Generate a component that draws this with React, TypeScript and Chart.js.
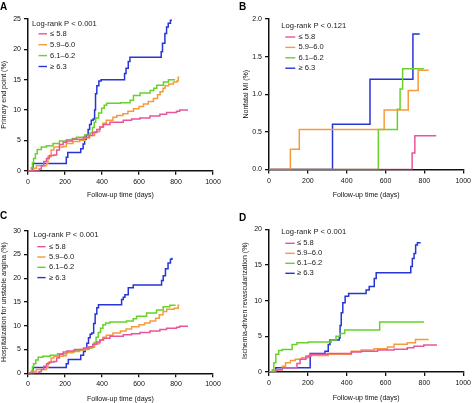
import { useEffect, useRef } from "react";
import { Chart, registerables } from "chart.js";

Chart.register(...registerables);

type Pt = [number, number];

const GROUPS = ["≤ 5.8", "5.9–6.0", "6.1–6.2", "≥ 6.3"];
const COLORS = ["#e8559a", "#f59b3c", "#66d22a", "#2535d6"];
const X_TITLE = "Follow-up time (days)";

// A: primary end point (%)
const A_LOW: Pt[] = [[0, 0], [60, 0.3], [72, 0.8], [85, 1.5], [100, 2.0], [115, 2.5], [140, 2.6], [155, 3.4], [170, 4.3], [190, 4.7], [210, 4.9], [240, 5.2], [300, 5.5], [330, 5.8], [350, 6.3], [372, 6.8], [390, 7.2], [408, 7.6], [443, 8.0], [515, 8.3], [560, 8.5], [605, 8.7], [659, 9.0], [713, 9.3], [749, 9.6], [803, 9.8], [820, 10.0], [865, 10.0]];
const A_MID: Pt[] = [[0, 0], [30, 0.4], [45, 0.8], [100, 1.2], [108, 2.3], [125, 3.4], [140, 3.9], [190, 4.0], [207, 4.5], [243, 4.8], [279, 5.0], [306, 5.4], [333, 5.8], [360, 6.4], [387, 7.2], [405, 7.8], [423, 8.3], [459, 8.8], [480, 9.1], [513, 9.4], [540, 9.8], [570, 10.2], [600, 10.6], [624, 11.0], [650, 11.4], [678, 11.9], [700, 12.5], [714, 13.0], [730, 13.6], [741, 14.0], [760, 14.3], [786, 14.6], [805, 14.8], [812, 15.4], [818, 15.4]];
const A_HIGH: Pt[] = [[0, 0], [18, 0.5], [24, 1.3], [30, 2.0], [40, 2.8], [50, 3.5], [72, 3.9], [100, 4.1], [135, 4.5], [170, 4.9], [207, 5.1], [240, 5.3], [262, 5.5], [306, 5.9], [335, 6.2], [348, 7.1], [358, 8.0], [366, 8.7], [382, 9.5], [398, 10.3], [412, 10.8], [425, 11.1], [500, 11.2], [552, 11.6], [570, 12.4], [606, 12.8], [660, 13.2], [680, 13.6], [696, 14.1], [732, 14.6], [759, 15.0], [795, 15.0]];
const A_TOP: Pt[] = [[0, 0], [27, 1.2], [207, 2.2], [215, 3.0], [285, 3.6], [298, 4.4], [306, 5.2], [315, 5.9], [325, 6.8], [333, 7.6], [342, 8.3], [352, 8.5], [360, 10.0], [365, 12.7], [372, 14.0], [383, 14.8], [395, 15.0], [522, 16.0], [530, 16.9], [542, 18.0], [551, 18.7], [720, 19.6], [727, 21.0], [740, 22.6], [749, 23.7], [758, 24.3], [770, 24.8], [778, 24.8]];

// B: nonfatal MI (%)
const B_LOW: Pt[] = [[0, 0], [737, 0.22], [751, 0.45], [861, 0.45]];
const B_MID: Pt[] = [[0, 0], [110, 0.27], [156, 0.53], [593, 0.79], [717, 1.05], [768, 1.32], [822, 1.32]];
const B_HIGH: Pt[] = [[0, 0], [563, 0.53], [661, 0.8], [675, 1.07], [688, 1.34], [797, 1.34]];
const B_TOP: Pt[] = [[0, 0], [327, 0.6], [520, 1.2], [741, 1.8], [776, 1.8]];

// C: hospitalization for unstable angina (%)
const C_LOW: Pt[] = [[0, 0], [60, 0.3], [72, 0.8], [85, 1.5], [100, 2.0], [115, 2.4], [140, 2.5], [155, 3.2], [170, 4.0], [190, 4.5], [210, 4.7], [250, 5.0], [300, 5.3], [330, 5.6], [350, 6.1], [372, 6.6], [390, 7.0], [408, 7.4], [443, 7.8], [515, 8.1], [560, 8.3], [605, 8.6], [659, 8.9], [713, 9.2], [749, 9.5], [803, 9.7], [820, 9.9], [865, 9.9]];
const C_MID: Pt[] = [[0, 0], [30, 0.4], [45, 0.8], [100, 1.2], [108, 2.2], [125, 3.2], [140, 3.6], [190, 3.7], [207, 4.3], [243, 4.6], [279, 4.9], [306, 5.2], [333, 5.5], [360, 6.2], [387, 7.0], [405, 7.6], [423, 8.0], [459, 8.5], [500, 8.9], [530, 9.3], [560, 9.8], [600, 10.2], [630, 10.6], [660, 11.0], [690, 11.6], [710, 12.3], [730, 13.0], [750, 13.5], [790, 13.7], [812, 14.3], [818, 14.3]];
const C_HIGH: Pt[] = [[0, 0], [18, 0.5], [24, 1.3], [30, 2.0], [42, 2.8], [55, 3.4], [80, 3.6], [120, 3.8], [160, 4.1], [210, 4.5], [250, 4.8], [282, 5.0], [330, 5.3], [348, 5.6], [358, 6.5], [368, 7.6], [380, 8.6], [392, 9.5], [405, 10.2], [420, 10.6], [443, 10.8], [533, 11.0], [569, 11.5], [587, 12.0], [641, 12.7], [695, 13.3], [731, 14.0], [767, 14.3], [798, 14.3]];
const C_TOP: Pt[] = [[0, 0], [27, 1.2], [207, 2.0], [218, 2.9], [285, 3.8], [300, 4.6], [309, 5.2], [318, 6.3], [327, 7.5], [336, 8.2], [345, 8.5], [355, 10.5], [363, 12.5], [372, 13.8], [381, 14.4], [506, 15.5], [515, 16.0], [524, 16.5], [542, 18.0], [569, 18.6], [722, 19.5], [731, 20.5], [743, 22.0], [757, 23.2], [770, 24.0], [778, 24.3]];

// D: ischemia-driven revascularization (%)
const D_LOW: Pt[] = [[0, 0], [35, 0.3], [68, 0.6], [144, 1.2], [160, 1.8], [190, 2.2], [215, 2.5], [300, 2.6], [424, 2.8], [475, 2.9], [559, 3.1], [644, 3.2], [712, 3.4], [746, 3.6], [797, 3.8], [865, 3.8]];
const D_MID: Pt[] = [[0, 0], [25, 0.3], [68, 0.8], [85, 1.3], [110, 1.6], [135, 1.8], [169, 2.0], [203, 2.3], [305, 2.5], [424, 2.9], [475, 3.1], [542, 3.25], [610, 3.5], [644, 3.9], [712, 4.1], [754, 4.55], [822, 4.55]];
const D_HIGH: Pt[] = [[0, 0], [17, 0.3], [25, 1.3], [35, 2.5], [50, 3.0], [68, 3.15], [119, 3.85], [144, 4.1], [203, 4.2], [320, 4.5], [345, 5.0], [364, 5.4], [390, 5.9], [570, 7.0], [798, 7.0]];
const D_TOP: Pt[] = [[0, 0], [35, 0.6], [212, 2.6], [288, 2.9], [305, 3.85], [314, 4.5], [362, 4.8], [366, 6.5], [372, 8.3], [380, 9.7], [392, 10.6], [410, 11.0], [500, 11.5], [516, 12.0], [542, 13.1], [552, 13.9], [730, 14.8], [738, 15.9], [747, 16.6], [755, 17.8], [764, 18.1], [781, 18.1]];

const FONT = "'Liberation Sans', Arial, Helvetica, sans-serif";

type LegendOpts = {
  title: string;
  titleX: number;
  titleY: number;
  rowY: number;
  rowGap: number;
  lineX0: number;
  lineX1: number;
  textX: number;
};

// legend drawn inside the plot area, like the original figure
const kmLegend = {
  id: "kmLegend",
  afterDatasetsDraw(chart: Chart, _args: unknown, opts: LegendOpts) {
    const { ctx, chartArea } = chart;
    const l = chartArea.left;
    const t = chartArea.top;
    ctx.save();
    ctx.font = `7.6px ${FONT}`;
    ctx.fillStyle = "#1a1a1a";
    ctx.textBaseline = "middle";
    ctx.textAlign = "left";
    ctx.fillText(opts.title, l + opts.titleX, t + opts.titleY);
    chart.data.datasets.forEach((ds, i) => {
      const y = t + opts.rowY + i * opts.rowGap;
      ctx.strokeStyle = ds.borderColor as string;
      ctx.lineWidth = 1.4;
      ctx.beginPath();
      ctx.moveTo(l + opts.lineX0, y);
      ctx.lineTo(l + opts.lineX1, y);
      ctx.stroke();
      ctx.fillText(ds.label as string, l + opts.textX, y);
    });
    ctx.restore();
  },
};

type PanelDef = {
  letter: string;
  left: number;
  top: number;
  width: number;
  height: number;
  series: Pt[][];
  yMax: number;
  yStep: number;
  decimals: number;
  yTitle: string;
  pText: string;
  pad: { top: number; right: number };
  axisW: number;
  axisH: number;
  yTitlePad: number;
  xTitlePad: number;
  legend: Omit<LegendOpts, "title">;
  letterTop: number;
  letterLeft: number;
};

const PANELS: PanelDef[] = [
  {
    letter: "A", left: 0, top: 0, width: 237, height: 200,
    series: [A_LOW, A_MID, A_HIGH, A_TOP], yMax: 25, yStep: 5, decimals: 0,
    yTitle: "Primary end point (%)", pText: "Log-rank P < 0.001",
    pad: { top: 19, right: 24 }, axisW: 28, axisH: 29.3, yTitlePad: 0, xTitlePad: 1,
    legend: { titleX: 4, titleY: 5, rowY: 14.8, rowGap: 10.9, lineX0: 10.5, lineX1: 19, textX: 22 },
    letterTop: 2, letterLeft: 0,
  },
  {
    letter: "B", left: 237, top: 0, width: 237, height: 200,
    series: [B_LOW, B_MID, B_HIGH, B_TOP], yMax: 2, yStep: 0.5, decimals: 1,
    yTitle: "Nonfatal MI (%)", pText: "Log-rank P < 0.121",
    pad: { top: 19, right: 8.7 }, axisW: 32, axisH: 30.5, yTitlePad: 5, xTitlePad: 1,
    legend: { titleX: 12.3, titleY: 6.5, rowY: 18, rowGap: 10.4, lineX0: 16.3, lineX1: 26.3, textX: 29.5 },
    letterTop: 2, letterLeft: 239,
  },
  {
    letter: "C", left: 0, top: 200, width: 237, height: 203,
    series: [C_LOW, C_MID, C_HIGH, C_TOP], yMax: 30, yStep: 5, decimals: 0,
    yTitle: "Hospitalization for unstable angina (%)", pText: "Log-rank P < 0.001",
    pad: { top: 30.7, right: 24 }, axisW: 28, axisH: 29.7, yTitlePad: 0, xTitlePad: 0,
    legend: { titleX: 5.6, titleY: 4.3, rowY: 16, rowGap: 10.3, lineX0: 9.3, lineX1: 17.6, textX: 21 },
    letterTop: 211, letterLeft: 0,
  },
  {
    letter: "D", left: 237, top: 200, width: 237, height: 203,
    series: [D_LOW, D_MID, D_HIGH, D_TOP], yMax: 20, yStep: 5, decimals: 0,
    yTitle: "Ischemia-driven revascularization (%)", pText: "Log-rank P < 0.001",
    pad: { top: 29.3, right: 8.7 }, axisW: 32, axisH: 31, yTitlePad: 4, xTitlePad: 0.5,
    legend: { titleX: 12.3, titleY: 3, rowY: 14, rowGap: 10, lineX0: 16.3, lineX1: 25.7, textX: 28 },
    letterTop: 213, letterLeft: 239,
  },
];

function Panel({ def }: { def: PanelDef }) {
  const canvasRef = useRef<HTMLCanvasElement | null>(null);

  useEffect(() => {
    if (!canvasRef.current) return;
    const axisColor = "#111";
    const tickFont = { family: FONT, size: 7 };
    const chart = new Chart(canvasRef.current, {
      type: "line",
      data: {
        datasets: def.series.map((pts, i) => ({
          label: GROUPS[i],
          data: pts.map(([x, y]) => ({ x, y })),
          borderColor: COLORS[i],
          backgroundColor: COLORS[i],
          borderWidth: 1.5,
          pointRadius: 0,
          stepped: "before" as const,
          fill: false,
        })),
      },
      options: {
        responsive: false,
        animation: false,
        layout: { padding: { top: def.pad.top, right: def.pad.right, left: 0, bottom: 0 } },
        plugins: {
          legend: { display: false },
          tooltip: { enabled: false },
          kmLegend: { title: def.pText, ...def.legend },
        } as any,
        scales: {
          x: {
            type: "linear",
            min: 0,
            max: 1000,
            ticks: {
              stepSize: 200,
              color: axisColor,
              font: tickFont,
              padding: 3,
              maxRotation: 0,
              autoSkip: false,
              callback: (v: string | number) => String(v),
            },
            grid: { drawOnChartArea: false, color: axisColor, lineWidth: 1.3, tickLength: 4 },
            border: { color: axisColor, width: 1.5 },
            title: { display: true, text: X_TITLE, color: axisColor, font: tickFont, padding: { top: 0, bottom: def.xTitlePad } },
            afterFit: (scale: any) => {
              scale.height = def.axisH;
            },
          },
          y: {
            type: "linear",
            min: 0,
            max: def.yMax,
            ticks: {
              stepSize: def.yStep,
              color: axisColor,
              font: tickFont,
              padding: 3,
              callback: (v: string | number) => Number(v).toFixed(def.decimals),
            },
            grid: { drawOnChartArea: false, color: axisColor, lineWidth: 1.3, tickLength: 4 },
            border: { color: axisColor, width: 1.5 },
            title: { display: true, text: def.yTitle, color: axisColor, font: tickFont, padding: { top: def.yTitlePad, bottom: 0 } },
            afterFit: (scale: any) => {
              scale.width = def.axisW;
            },
          },
        },
      },
      plugins: [kmLegend as any],
    });
    return () => {
      chart.destroy();
    };
  }, [def]);

  return (
    <>
      <div style={{ position: "absolute", left: def.left, top: def.top, width: def.width, height: def.height }}>
        <canvas ref={canvasRef} width={def.width} height={def.height} style={{ display: "block" }} />
      </div>
      <div
        style={{
          position: "absolute",
          left: def.letterLeft,
          top: def.letterTop,
          font: `bold 10px ${FONT}`,
          lineHeight: "10px",
          color: "#000",
        }}
      >
        {def.letter}
      </div>
    </>
  );
}

export default function App() {
  return (
    <div style={{ position: "fixed", left: 0, top: 0, width: 474, height: 403, background: "#fff", overflow: "hidden" }}>
      {PANELS.map((p) => (
        <Panel key={p.letter} def={p} />
      ))}
    </div>
  );
}
